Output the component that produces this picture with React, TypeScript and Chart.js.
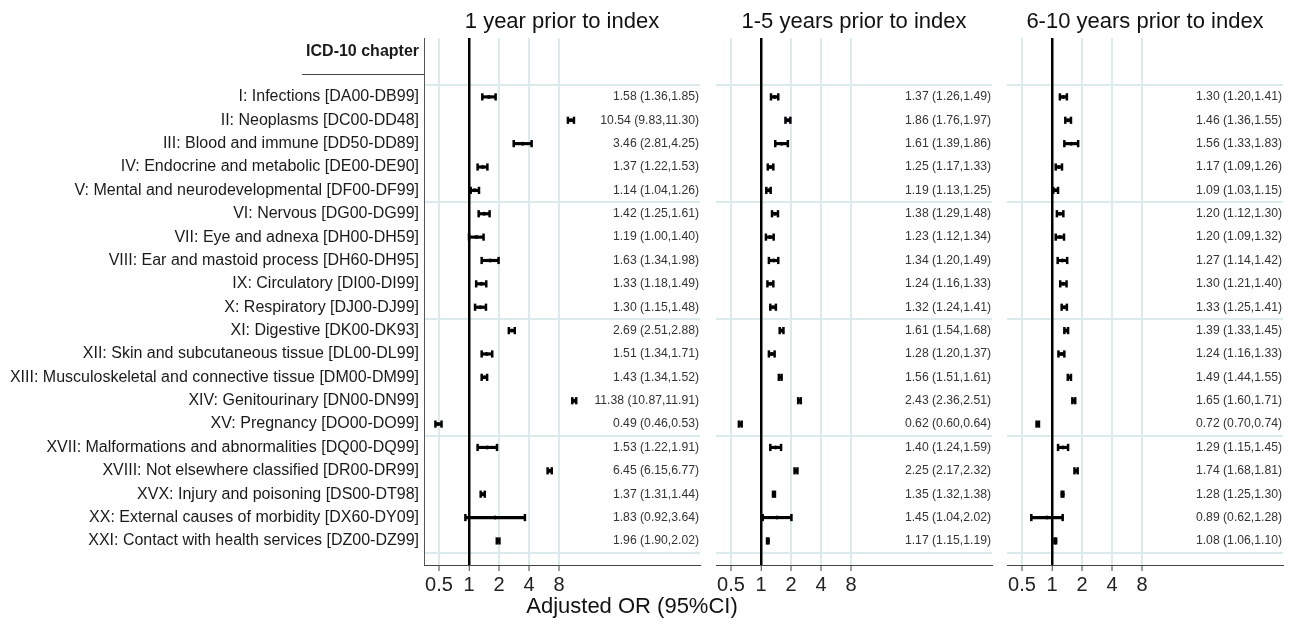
import React, { useEffect, useRef } from 'react';
import { Chart, registerables } from 'chart.js';

Chart.register(...registerables);

const FONT = '"Liberation Sans", Arial, Helvetica, sans-serif';

const chapters = [
  'I: Infections [DA00-DB99]',
  'II: Neoplasms [DC00-DD48]',
  'III: Blood and immune [DD50-DD89]',
  'IV: Endocrine and metabolic [DE00-DE90]',
  'V: Mental and neurodevelopmental [DF00-DF99]',
  'VI: Nervous [DG00-DG99]',
  'VII: Eye and adnexa [DH00-DH59]',
  'VIII: Ear and mastoid process [DH60-DH95]',
  'IX: Circulatory [DI00-DI99]',
  'X: Respiratory [DJ00-DJ99]',
  'XI: Digestive [DK00-DK93]',
  'XII: Skin and subcutaneous tissue [DL00-DL99]',
  'XIII: Musculoskeletal and connective tissue [DM00-DM99]',
  'XIV: Genitourinary [DN00-DN99]',
  'XV: Pregnancy [DO00-DO99]',
  'XVII: Malformations and abnormalities [DQ00-DQ99]',
  'XVIII: Not elsewhere classified [DR00-DR99]',
  'XVX: Injury and poisoning [DS00-DT98]',
  'XX: External causes of morbidity [DX60-DY09]',
  'XXI: Contact with health services [DZ00-DZ99]',
];

// 1 year prior to index
const or1 = [1.58, 10.54, 3.46, 1.37, 1.14, 1.42, 1.19, 1.63, 1.33, 1.30, 2.69, 1.51, 1.43, 11.38, 0.49, 1.53, 6.45, 1.37, 1.83, 1.96];
const lo1 = [1.36, 9.83, 2.81, 1.22, 1.04, 1.25, 1.00, 1.34, 1.18, 1.15, 2.51, 1.34, 1.34, 10.87, 0.46, 1.22, 6.15, 1.31, 0.92, 1.90];
const hi1 = [1.85, 11.30, 4.25, 1.53, 1.26, 1.61, 1.40, 1.98, 1.49, 1.48, 2.88, 1.71, 1.52, 11.91, 0.53, 1.91, 6.77, 1.44, 3.64, 2.02];

// 1-5 years prior to index
const or2 = [1.37, 1.86, 1.61, 1.25, 1.19, 1.38, 1.23, 1.34, 1.24, 1.32, 1.61, 1.28, 1.56, 2.43, 0.62, 1.40, 2.25, 1.35, 1.45, 1.17];
const lo2 = [1.26, 1.76, 1.39, 1.17, 1.13, 1.29, 1.12, 1.20, 1.16, 1.24, 1.54, 1.20, 1.51, 2.36, 0.60, 1.24, 2.17, 1.32, 1.04, 1.15];
const hi2 = [1.49, 1.97, 1.86, 1.33, 1.25, 1.48, 1.34, 1.49, 1.33, 1.41, 1.68, 1.37, 1.61, 2.51, 0.64, 1.59, 2.32, 1.38, 2.02, 1.19];

// 6-10 years prior to index
const or3 = [1.30, 1.46, 1.56, 1.17, 1.09, 1.20, 1.20, 1.27, 1.30, 1.33, 1.39, 1.24, 1.49, 1.65, 0.72, 1.29, 1.74, 1.28, 0.89, 1.08];
const lo3 = [1.20, 1.36, 1.33, 1.09, 1.03, 1.12, 1.09, 1.14, 1.21, 1.25, 1.33, 1.16, 1.44, 1.60, 0.70, 1.15, 1.68, 1.25, 0.62, 1.06];
const hi3 = [1.41, 1.55, 1.83, 1.26, 1.15, 1.30, 1.32, 1.42, 1.40, 1.41, 1.45, 1.33, 1.55, 1.71, 0.74, 1.45, 1.81, 1.30, 1.28, 1.10];

const xTicks = [0.5, 1, 2, 4, 8];
const groupBreaks = [-0.5, 4.5, 9.5, 14.5, 19.5];
const panelTitles = ['1 year prior to index', '1-5 years prior to index', '6-10 years prior to index'];
const headerLabel = 'ICD-10 chapter';
const axisTitle = 'Adjusted OR (95%CI)';

const X_MIN = 0.5 / Math.SQRT2;
const X_MAX = 208;
const Y_MIN = -2.52;
const Y_MAX = 20.03;
const HEADER_POS = -1.93;
const HEADER_RULE = -0.98;

const GRID = '#dbeaea';

type PanelProps = {
  left: number;
  width: number;
  padLeft: number;
  padRight: number;
  or: number[];
  lo: number[];
  hi: number[];
  showLabels: boolean;
};

function Panel({ left, width, padLeft, padRight, or, lo, hi, showLabels }: PanelProps) {
  const ref = useRef<HTMLCanvasElement | null>(null);
  useEffect(() => {
    if (!ref.current) return;
    const rows = or.map((_, i) => i);

    const valuePlugin = {
      id: 'valueText',
      afterDatasetsDraw(chart: any) {
        const { ctx, chartArea, scales } = chart;
        ctx.save();
        ctx.font = `12.2px ${FONT}`;
        ctx.fillStyle = '#333';
        ctx.textAlign = 'right';
        ctx.textBaseline = 'middle';
        or.forEach((v, i) => {
          ctx.fillText(
            `${v.toFixed(2)} (${lo[i].toFixed(2)},${hi[i].toFixed(2)})`,
            chartArea.right - 1,
            scales.y.getPixelForValue(i)
          );
        });
        ctx.restore();
      },
    };

    const headerPlugin = {
      id: 'headerRule',
      afterDraw(chart: any) {
        if (!showLabels) return;
        const { ctx, chartArea, scales } = chart;
        ctx.save();
        ctx.font = `bold 16px ${FONT}`;
        const w = ctx.measureText(headerLabel).width;
        const y = Math.round(scales.y.getPixelForValue(HEADER_RULE)) + 0.5;
        ctx.strokeStyle = '#444';
        ctx.lineWidth = 1;
        ctx.beginPath();
        ctx.moveTo(chartArea.left - 5 - w - 4, y);
        ctx.lineTo(chartArea.left, y);
        ctx.stroke();
        ctx.restore();
      },
    };

    const chart = new Chart(ref.current, {
      type: 'scatter',
      data: {
        datasets: [
          {
            type: 'bar',
            indexAxis: 'y',
            data: rows.map((i) => ({ x: [lo[i], hi[i]], y: i })),
            backgroundColor: '#000',
            borderWidth: 0,
            barThickness: 2.5,
            xAxisID: 'x',
            yAxisID: 'y',
          } as any,
          {
            type: 'scatter',
            data: rows.flatMap((i) => [
              { x: lo[i], y: i },
              { x: hi[i], y: i },
            ]),
            pointStyle: 'line',
            pointRotation: 90,
            pointRadius: 3.6,
            pointHoverRadius: 3.6,
            pointBorderWidth: 2.5,
            pointBorderColor: '#000',
            xAxisID: 'x',
            yAxisID: 'y',
          } as any,
          {
            type: 'scatter',
            data: rows.map((i) => ({ x: or[i], y: i })),
            pointStyle: 'circle',
            pointRadius: 2,
            pointHoverRadius: 2,
            pointBorderWidth: 0,
            pointBackgroundColor: '#111',
            xAxisID: 'x',
            yAxisID: 'y',
          } as any,
        ],
      },
      options: {
        responsive: false,
        animation: false,
        events: [],
        layout: { padding: { left: padLeft, right: padRight, top: 38, bottom: 0 } },
        plugins: {
          legend: { display: false },
          tooltip: { enabled: false },
          title: { display: false },
        },
        scales: {
          yg: {
            type: 'linear',
            position: 'right',
            reverse: true,
            min: Y_MIN,
            max: Y_MAX,
            offset: false,
            afterBuildTicks: (s: any) => {
              s.ticks = groupBreaks.map((v) => ({ value: v }));
            },
            afterFit: (s: any) => {
              s.width = 0;
            },
            ticks: { display: false },
            border: { display: false },
            grid: { color: GRID, lineWidth: 2, drawTicks: false, offset: false },
          },
          x: {
            type: 'logarithmic',
            position: 'bottom',
            min: X_MIN,
            max: X_MAX,
            beginAtZero: false,
            offset: false,
            afterBuildTicks: (s: any) => {
              s.ticks = xTicks.map((v) => ({ value: v }));
            },
            afterFit: (s: any) => {
              s.height = 66;
            },
            ticks: {
              autoSkip: false,
              maxRotation: 0,
              minRotation: 0,
              padding: 2,
              color: '#222',
              font: { family: FONT, size: 20 },
              callback: (v: any) => String(v),
            },
            border: { display: true, color: '#444', width: 1 },
            grid: {
              color: (c: any) => (c.tick && c.tick.value === 1 ? '#000' : GRID),
              lineWidth: (c: any) => (c.tick && c.tick.value === 1 ? 2.5 : 2),
              tickColor: '#444',
              tickWidth: 1,
              tickLength: 6,
              offset: false,
            },
          },
          y: {
            type: 'linear',
            position: 'left',
            display: showLabels,
            reverse: true,
            min: Y_MIN,
            max: Y_MAX,
            offset: false,
            afterBuildTicks: (s: any) => {
              s.ticks = [{ value: HEADER_POS }, ...rows.map((v) => ({ value: v }))];
            },
            afterFit: (s: any) => {
              if (showLabels) s.width = 424;
            },
            ticks: {
              autoSkip: false,
              padding: 5,
              color: '#1a1a1a',
              font: (c: any) => ({
                family: FONT,
                size: 16,
                weight: c.tick && c.tick.value < 0 ? 'bold' : 'normal',
              }),
              callback: (v: any) => (v === HEADER_POS ? headerLabel : chapters[v]),
            },
            border: { display: true, color: '#555', width: 1 },
            grid: { display: false, drawTicks: false, offset: false },
          },
        } as any,
      },
      plugins: [valuePlugin, headerPlugin],
    } as any);
    return () => chart.destroy();
  }, []);

  return (
    <canvas
      ref={ref}
      width={width}
      height={631}
      style={{ position: 'absolute', left, top: 0, width, height: 631 }}
    />
  );
}

const textStyle = (x: number, y: number, size: number): React.CSSProperties => ({
  position: 'absolute',
  left: x,
  top: y,
  transform: 'translate(-50%, -50%)',
  fontFamily: FONT,
  fontSize: size,
  color: '#111',
  whiteSpace: 'nowrap',
  lineHeight: 1,
});

export default function App() {
  return (
    <div
      style={{
        position: 'absolute',
        left: 0,
        top: 0,
        width: 1292,
        height: 631,
        background: '#fff',
        overflow: 'hidden',
      }}
    >
      <Panel left={0} width={712} padLeft={0} padRight={12} or={or1} lo={lo1} hi={hi1} showLabels={true} />
      <Panel left={700} width={300} padLeft={16} padRight={8} or={or2} lo={lo2} hi={hi2} showLabels={false} />
      <Panel left={995} width={297} padLeft={12} padRight={9} or={or3} lo={lo3} hi={hi3} showLabels={false} />
      <div style={textStyle(562, 21, 22)}>{panelTitles[0]}</div>
      <div style={textStyle(854, 21, 22)}>{panelTitles[1]}</div>
      <div style={textStyle(1145, 21, 22)}>{panelTitles[2]}</div>
      <div style={textStyle(632, 606, 22)}>{axisTitle}</div>
    </div>
  );
}
